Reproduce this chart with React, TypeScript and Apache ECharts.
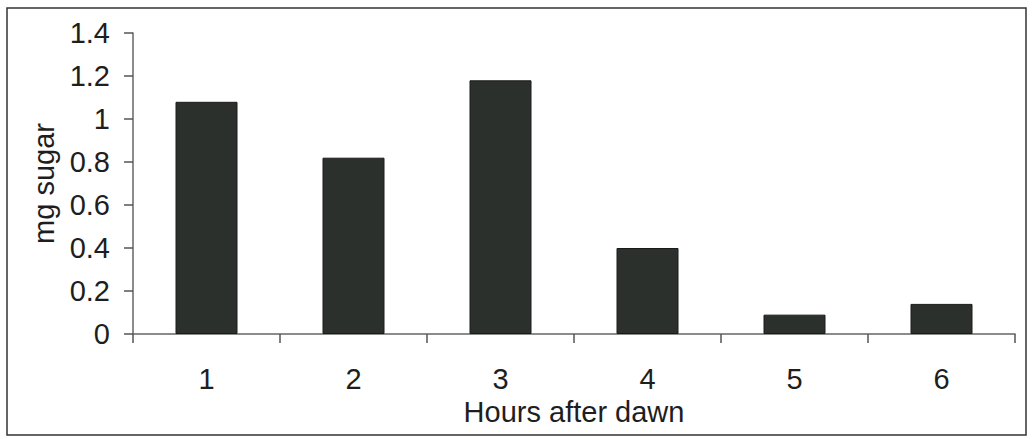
import React, { useEffect, useRef } from "react";
import * as echarts from "echarts";

const categories = ["1", "2", "3", "4", "5", "6"];
const sugarValues = [1.08, 0.82, 1.18, 0.4, 0.09, 0.14];
const yTicks = { min: 0, max: 1.4, interval: 0.2 };

export default function App() {
  const ref = useRef<HTMLDivElement>(null);
  useEffect(() => {
    const chart = echarts.init(ref.current!, null, { renderer: "svg" });
    chart.setOption({
      animation: false,
      backgroundColor: "#ffffff",
      textStyle: { fontFamily: "Liberation Sans, Arial, sans-serif" },
      graphic: [
        {
          type: "rect",
          shape: { x: 7, y: 8, width: 1019, height: 427 },
          style: { fill: "none", stroke: "#333", lineWidth: 1.5 },
          silent: true,
        },
      ],
      grid: { left: 133, right: 17, top: 33, bottom: 105, containLabel: false },
      xAxis: {
        type: "category",
        data: categories,
        name: "Hours after dawn",
        nameLocation: "middle",
        nameGap: 62,
        nameTextStyle: { fontSize: 29, color: "#1e1e1e" },
        axisLine: { lineStyle: { color: "#666", width: 1.5 } },
        axisTick: { show: true, alignWithLabel: false, length: 9, lineStyle: { color: "#555", width: 1.5 } },
        axisLabel: { fontSize: 29, color: "#1e1e1e", margin: 30 },
      },
      yAxis: {
        type: "value",
        min: yTicks.min,
        max: yTicks.max,
        interval: yTicks.interval,
        name: "mg sugar",
        nameLocation: "middle",
        nameGap: 74,
        nameRotate: 90,
        nameTextStyle: { fontSize: 29, color: "#1e1e1e" },
        splitLine: { show: false },
        axisLine: { show: true, lineStyle: { color: "#666", width: 1.5 } },
        axisTick: { show: true, length: 9, lineStyle: { color: "#555", width: 1.5 } },
        axisLabel: {
          fontSize: 29,
          color: "#1e1e1e",
          margin: 23,
          formatter: (v: number) => String(Math.round(v * 10) / 10),
        },
      },
      series: [
        {
          type: "bar",
          data: sugarValues,
          barWidth: 62,
          itemStyle: { color: "#2b302c", borderColor: "#1a1a1a", borderWidth: 1 },
        },
      ],
    });
    return () => chart.dispose();
  }, []);
  return <div ref={ref} style={{ width: 1032, height: 439, position: "absolute", left: 0, top: 0 }} />;
}
